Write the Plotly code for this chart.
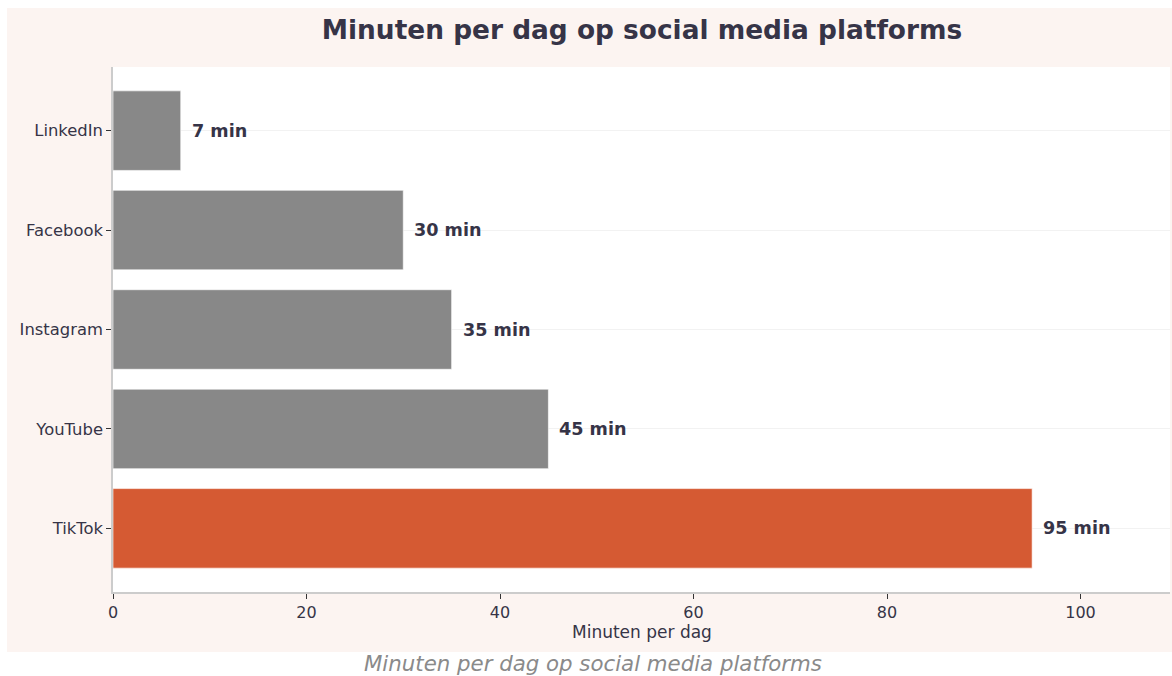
import plotly.graph_objects as go

categories = ["TikTok", "YouTube", "Instagram", "Facebook", "LinkedIn"]
minutes = [95, 45, 35, 30, 7]
bar_colors = ["#d55a33", "#888888", "#888888", "#888888", "#888888"]
value_labels = [f"{v} min" for v in minutes]
x_ticks = [0, 20, 40, 60, 80, 100]

title_text = "Minuten per dag op social media platforms"
x_title = "Minuten per dag"
caption = "Minuten per dag op social media platforms"

W, H = 1172, 676
# plot area in page pixels: x 113..1170, y 67..592
L, R, T, B = 113, 2, 67, H - 592
pw, ph = W - L - R, H - T - B

def px_x(p):  # pixel -> paper x
    return (p - L) / pw

def px_y(p):  # pixel -> paper y
    return (H - B - p) / ph

FONT = "DejaVu Sans"
DARK = "#363447"

fig = go.Figure()
fig.add_trace(go.Bar(
    x=minutes, y=categories, orientation="h",
    marker=dict(color=bar_colors, line=dict(color="rgba(255,255,255,0.6)", width=1)),
    width=0.8, hoverinfo="skip",
))

annotations = []
for c, v, t in zip(categories, minutes, value_labels):
    annotations.append(dict(
        x=v, y=c, xref="x", yref="y", text=f"<b>{t}</b>", showarrow=False,
        xanchor="left", yanchor="middle", xshift=9,
        font=dict(family=FONT, size=17.6, color=DARK),
    ))
annotations.append(dict(
    x=px_x(642), y=px_y(632), xref="paper", yref="paper", text=x_title,
    showarrow=False, xanchor="center", yanchor="middle",
    font=dict(family=FONT, size=17, color=DARK),
))
annotations.append(dict(
    x=px_x(593), y=px_y(663), xref="paper", yref="paper", text=f"<i>{caption}</i>",
    showarrow=False, xanchor="center", yanchor="middle", borderpad=0,
    font=dict(family=FONT, size=21.3, color="#8a8a8a"),
))

shapes = [
    dict(type="rect", xref="paper", yref="paper", layer="below",
         x0=px_x(7), x1=px_x(1180), y0=px_y(652), y1=px_y(8),
         fillcolor="#fcf4f1", line=dict(width=0)),
    dict(type="rect", xref="paper", yref="paper", layer="below",
         x0=0, x1=1, y0=0, y1=1, fillcolor="#ffffff", line=dict(width=0)),
]

fig.update_layout(
    width=W, height=H,
    margin=dict(l=L, r=R, t=T, b=B, autoexpand=False),
    paper_bgcolor="#ffffff", plot_bgcolor="rgba(0,0,0,0)",
    showlegend=False,
    title=dict(text=f"<b>{title_text}</b>", x=642 / W, xanchor="center",
               y=1 - 30 / H, yanchor="middle", yref="container",
               font=dict(family=FONT, size=26.4, color=DARK)),
    font=dict(family=FONT, color=DARK),
    annotations=annotations,
    shapes=shapes,
    xaxis=dict(range=[0, 109.25], tickvals=x_ticks, showgrid=False, zeroline=False,
               showline=True, linecolor="#cccccc", linewidth=1.5,
               ticks="outside", ticklen=5, tickcolor="#333333", tickwidth=1.2,
               tickfont=dict(family=FONT, size=16, color=DARK)),
    yaxis=dict(type="category", categoryorder="array", categoryarray=categories,
               range=[-0.64, 4.64], showgrid=True, gridcolor="#f2f2f2", gridwidth=1,
               zeroline=False, showline=True, linecolor="#cccccc", linewidth=1.5,
               ticks="outside", ticklen=5, tickcolor="#333333", tickwidth=1.2,
               tickfont=dict(family=FONT, size=16.4, color=DARK)),
)

fig.write_html(
    "out.html",
    config={"displayModeBar": False},
    post_script="document.body.style.margin='0';document.body.style.overflow='hidden';",
)
